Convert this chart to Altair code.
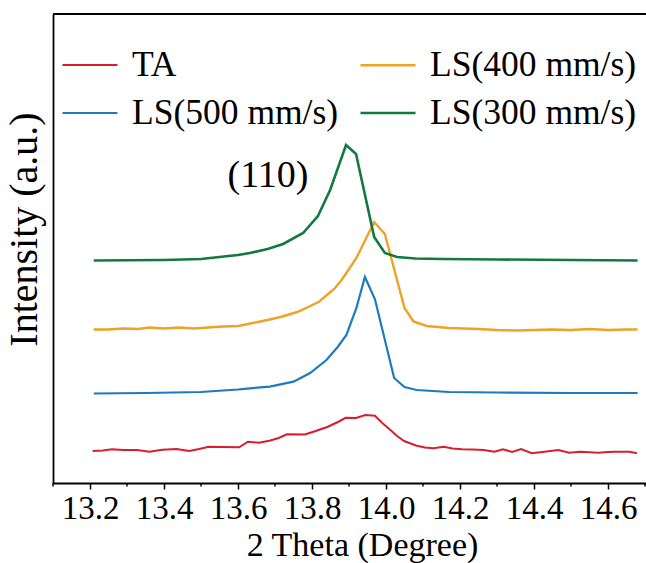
import altair as alt
import pandas as pd

series_names = ["TA", "LS(500 mm/s)", "LS(400 mm/s)", "LS(300 mm/s)"]
series_colors = ["#d81e2e", "#1f79bd", "#eea227", "#127a40"]
series_widths = [2.0, 2.6, 2.6, 2.6]

ta_x = [13.207, 13.235, 13.259, 13.29, 13.327, 13.361, 13.395, 13.434, 13.468, 13.495,
        13.521, 13.56, 13.603, 13.627, 13.656, 13.685, 13.71, 13.732, 13.781, 13.81,
        13.843, 13.87, 13.891, 13.919, 13.944, 13.970, 13.99, 14.012, 14.03, 14.049,
        14.081, 14.105, 14.128, 14.156, 14.18, 14.205, 14.235, 14.264, 14.293, 14.316,
        14.341, 14.365, 14.394, 14.428, 14.466, 14.495, 14.524, 14.55, 14.573, 14.6,
        14.621, 14.659, 14.678]
ta_y = [32, 32.5, 33.7, 33, 33, 31.3, 33.3, 34, 32, 34,
        36.3, 36, 35.7, 41.3, 40.3, 42.3, 45, 48.7, 48.5, 52,
        56.3, 61, 65.2, 65, 68, 67.3, 60, 53, 47, 42,
        37.5, 35.5, 34.7, 36.3, 34.5, 33.7, 33.5, 33, 31.3, 33.7,
        31, 34, 29.7, 31.3, 33, 30.3, 31.3, 30.8, 30.3, 31,
        31.3, 31.3, 29.7]

ls400_x = [13.21, 13.25, 13.29, 13.33, 13.36, 13.40, 13.44, 13.48, 13.52, 13.56,
           13.60, 13.64, 13.68, 13.72, 13.76, 13.79, 13.82, 13.84, 13.86, 13.88,
           13.90, 13.92, 13.94, 13.968, 13.997, 14.05, 14.074, 14.11, 14.17, 14.25,
           14.30, 14.35, 14.40, 14.45, 14.50, 14.55, 14.60, 14.65, 14.68]
ls400_y = [153.5, 153.5, 154.5, 154, 155.5, 154.5, 155.5, 154.5, 155.5, 156.5,
           157, 160, 163, 166.5, 171, 176, 181.5, 188, 194, 203,
           214, 225, 240, 261, 249, 175, 161.5, 157, 155, 154,
           153, 152.5, 153, 153.5, 153, 154, 153, 153.5, 153.5]

ls500_x = [13.21, 13.35, 13.50, 13.60, 13.632, 13.686, 13.75, 13.795, 13.839, 13.87,
           13.893, 13.92, 13.943, 13.97, 14.022, 14.05, 14.083, 14.17, 14.30, 14.50, 14.68]
ls500_y = [89.5, 90, 91, 93.5, 94.7, 96.3, 101.3, 110, 123, 136.3,
           148, 175, 206, 184, 105, 96, 93, 91, 90.5, 90, 90]

ls300_x = [13.21, 13.40, 13.50, 13.60, 13.632, 13.68, 13.722, 13.776, 13.816, 13.849,
           13.892, 13.919, 13.968, 13.997, 14.03, 14.08, 14.15, 14.30, 14.50, 14.68]
ls300_y = [222.5, 223, 224, 228, 230, 234, 239, 250, 267, 293,
           338, 329, 246, 230, 226, 224.5, 224, 223.5, 223, 222.5]

major_ticks = [13.2, 13.4, 13.6, 13.8, 14.0, 14.2, 14.4, 14.6]
minor_ticks = [13.1, 13.3, 13.5, 13.7, 13.9, 14.1, 14.3, 14.5, 14.7]

peak_label = ["(110)"]
peak_label_x = [13.681]
peak_label_y = [307]

rows = []
for name, xs, ys in [("TA", ta_x, ta_y), ("LS(500 mm/s)", ls500_x, ls500_y),
                     ("LS(400 mm/s)", ls400_x, ls400_y), ("LS(300 mm/s)", ls300_x, ls300_y)]:
    for xv, yv in zip(xs, ys):
        rows.append({"theta": xv, "intensity": yv, "series": name})
df = pd.DataFrame(rows)

W, H = 593, 469
FONT = "Liberation Serif, Times New Roman, serif"

x_scale = alt.Scale(domain=[13.1, 13.1 + 593 / 370], nice=False, zero=False)
y_scale = alt.Scale(domain=[0, 469], nice=False, zero=False)

x_axis = alt.Axis(
    values=major_ticks, format=".1f", tickSize=6,
    tickColor="black", tickWidth=1.5, domainColor="black", domainWidth=1.8,
    labelFont=FONT, labelFontSize=33, labelColor="black", labelPadding=3,
    labelOverlap=False, labelFlush=False, grid=False,
    title="2 Theta (Degree)", titleFont=FONT, titleFontSize=34, titleFontWeight="normal",
    titleColor="black", titleX=309, titleY=72, titleBaseline="alphabetic", titleAlign="center",
)
y_axis = alt.Axis(
    ticks=False, labels=False, grid=False, domainColor="black", domainWidth=1.8,
    title="Intensity (a.u.)", titleFont=FONT, titleFontSize=40, titleFontWeight="normal",
    titleColor="black", titleAngle=270, titleX=-29, titleY=215, titleBaseline="middle",
    titleAlign="center",
)

lines = alt.Chart(df).mark_line(interpolate="linear").encode(
    x=alt.X("theta:Q", scale=x_scale, axis=x_axis),
    y=alt.Y("intensity:Q", scale=y_scale, axis=y_axis),
    color=alt.Color(
        "series:N",
        scale=alt.Scale(domain=series_names, range=series_colors),
        legend=alt.Legend(
            orient="none", legendX=8, legendY=22, columns=2, title=None,
            symbolType="stroke", symbolSize=3025, symbolStrokeWidth=3.5,
            labelFont=FONT, labelFontSize=35.5, labelColor="black", labelOffset=13,
            columnPadding=16, rowPadding=-20, padding=0, labelLimit=0,
        ),
    ),
    strokeWidth=alt.StrokeWidth(
        "series:N", scale=alt.Scale(domain=series_names, range=series_widths), legend=None
    ),
    order=alt.Order("theta:Q"),
)

minor_df = pd.DataFrame({"tick": minor_ticks})
minor = alt.Chart(minor_df).mark_rule(color="black", strokeWidth=1.5).encode(
    x=alt.X("tick:Q", scale=x_scale, axis=x_axis),
    y=alt.value(H), y2=alt.value(H + 3.5),
)

label_df = pd.DataFrame({"t": peak_label, "x": peak_label_x, "y": peak_label_y})
label = alt.Chart(label_df).mark_text(
    font=FONT, fontSize=38, color="black", align="center", baseline="middle"
).encode(x=alt.X("x:Q", scale=x_scale, axis=x_axis),
         y=alt.Y("y:Q", scale=y_scale, axis=y_axis), text="t:N")

top_border = alt.Chart(pd.DataFrame({"a": [0]})).mark_rule(color="black", strokeWidth=1.8).encode(
    x=alt.value(0), x2=alt.value(W), y=alt.value(0)
)

chart = alt.layer(lines, minor, label, top_border).properties(
    width=W, height=H,
    padding={"left": 53, "top": 14, "right": 0, "bottom": 80},
    autosize=alt.AutoSizeParams(type="none"),
).configure_view(stroke="transparent").configure_legend(labelFont=FONT).configure_axis(labelFont=FONT)

chart.save("out.html", embed_options={"renderer": "svg", "actions": False})
